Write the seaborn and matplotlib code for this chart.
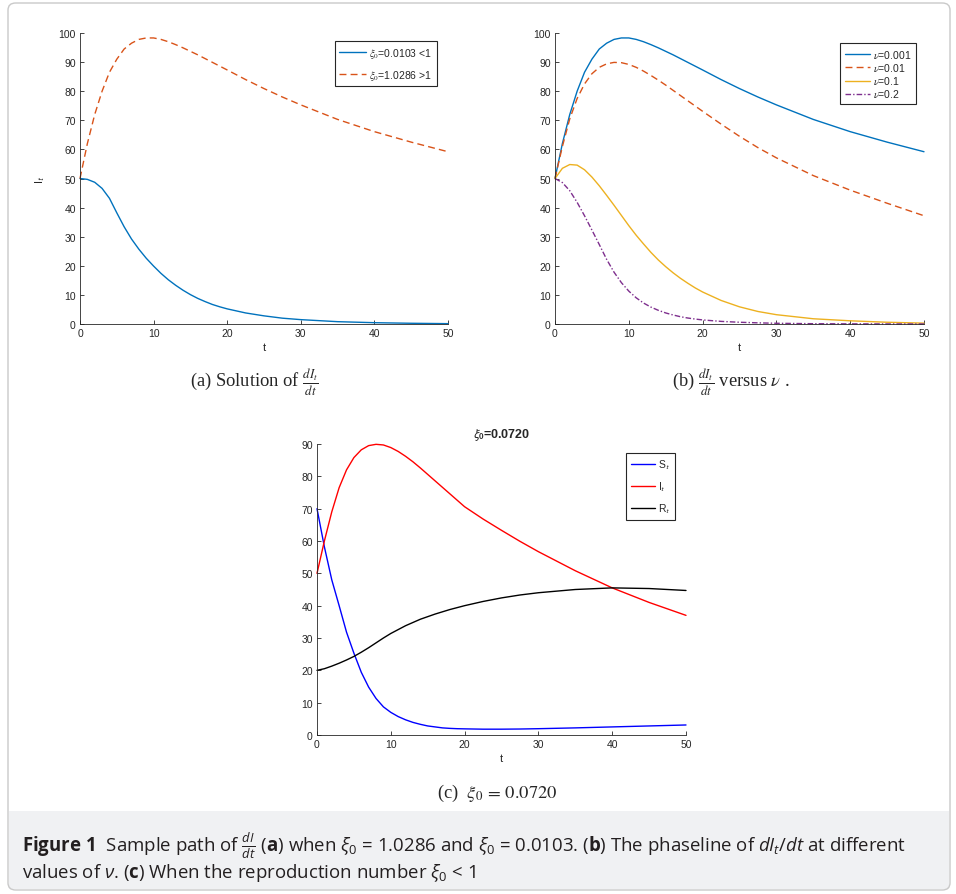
import numpy as np
import pandas as pd
import matplotlib
matplotlib.use("Agg")
import matplotlib.pyplot as plt
import matplotlib.patches as mpatches
from matplotlib import font_manager
import seaborn as sns

# time grid
t_vals = [0, 1, 2, 3, 4, 5, 6, 7, 8, 9, 10, 11, 12, 13, 14, 15, 16, 17, 18, 19, 20,
          22.5, 25, 27.5, 30, 35, 40, 45, 50]

# panel (a)
I_low = [50, 49.7, 48.7, 46.6, 43.2, 38.2, 33.4, 29.2, 25.7, 22.6, 19.9, 17.4, 15.2, 13.3,
         11.6, 10.1, 8.8, 7.7, 6.7, 5.9, 5.2, 3.8, 2.8, 2.0, 1.5, 0.8, 0.45, 0.25, 0.12]
I_high = [50, 62, 72, 80, 86.5, 91, 94.5, 96.5, 97.8, 98.3, 98.3, 97.8, 97, 96, 94.9, 93.7,
          92.5, 91.2, 89.9, 88.6, 87.3, 84, 80.9, 78, 75.3, 70.3, 66.1, 62.5, 59.2]
labels_a = [r"$\xi_0$=0.0103 <1", r"$\xi_0$=1.0286 >1"]

# panel (b)
nu_labels = [r"$\nu$=0.001", r"$\nu$=0.01", r"$\nu$=0.1", r"$\nu$=0.2"]
I_nu001 = I_high
I_nu01 = [50, 61, 70.5, 77.5, 82.5, 86, 88.2, 89.4, 89.9, 89.8, 89.2, 88.2, 86.9, 85.4,
          83.8, 82.1, 80.3, 78.5, 76.7, 74.9, 73.1, 68.7, 64.5, 60.6, 57.1, 51, 46, 41.5, 37.2]
I_nu1 = [50, 53.5, 54.8, 54.6, 53, 50.5, 47.5, 44.2, 40.8, 37.3, 33.8, 30.5, 27.5, 24.6,
         22, 19.7, 17.6, 15.7, 14, 12.4, 11, 8.1, 5.9, 4.3, 3.2, 1.8, 1.1, 0.6, 0.3]
I_nu2 = [50, 48.6, 45.8, 41.8, 37.2, 32.3, 27.3, 22.2, 17.8, 14.2, 11.3, 9, 7.2, 5.8,
         4.7, 3.8, 3.1, 2.5, 2.05, 1.7, 1.4, 0.9, 0.6, 0.4, 0.25, 0.1, 0.05, 0.02, 0.01]

# panel (c)
S_c = [70, 58.2, 48, 40, 31.8, 25.3, 19.4, 14.8, 11.3, 8.7, 7, 5.7, 4.7, 3.9, 3.3, 2.8,
       2.5, 2.2, 2.05, 1.95, 1.9, 1.8, 1.8, 1.85, 1.95, 2.2, 2.5, 2.8, 3.1]
I_c = [50, 60, 69, 76.5, 82, 85.8, 88.2, 89.5, 89.9, 89.7, 88.9, 87.7, 86.2, 84.5, 82.6,
       80.6, 78.6, 76.6, 74.6, 72.6, 70.6, 66.8, 63.3, 59.9, 56.7, 50.8, 45.5, 41, 37]
R_c = [20, 20.5, 21.3, 22.2, 23.2, 24.3, 25.6, 27, 28.5, 30, 31.4, 32.6, 33.8, 34.8, 35.8,
       36.6, 37.4, 38.1, 38.8, 39.4, 40, 41.3, 42.4, 43.3, 44, 45, 45.5, 45.3, 44.7]
labels_c = ["S$_t$", "I$_t$", "R$_t$"]

mat_colors = ["#0072BD", "#D95319", "#EDB120", "#7E2F8E"]

sns.set_style("ticks")
installed = {f.name for f in font_manager.fontManager.ttflist}
cap_font = "Liberation Sans Narrow" if "Liberation Sans Narrow" in installed else "Open Sans"
plt.rcParams["font.family"] = ["Liberation Sans", "DejaVu Sans"]
plt.rcParams["mathtext.fontset"] = "custom"
plt.rcParams["mathtext.rm"] = cap_font
plt.rcParams["mathtext.it"] = cap_font + ":italic"
plt.rcParams["mathtext.bf"] = cap_font + ":bold"

fig = plt.figure(figsize=(9.56, 8.95), dpi=100)
W, H = 956, 895


def px_axes(l, t, r, b):
    return fig.add_axes([l / W, 1 - b / H, (r - l) / W, (b - t) / H])


def style_axes(ax, ymax):
    ax.set_xlim(0, 50)
    ax.set_ylim(0, ymax)
    ax.set_xticks(range(0, 51, 10))
    ax.set_yticks(range(0, ymax + 1, 10))
    ax.tick_params(direction="in", length=3, width=0.6, labelsize=7.5,
                   colors="#262626", pad=3)
    for s in ["top", "right"]:
        ax.spines[s].set_visible(False)
    for s in ["left", "bottom"]:
        ax.spines[s].set_color("#262626")
        ax.spines[s].set_linewidth(0.6)
    ax.set_xlabel("t", fontsize=8, labelpad=3)


def draw(ax, y, color, ls, label):
    df = pd.DataFrame({"t": t_vals, "y": y})
    sns.lineplot(data=df, x="t", y="y", ax=ax, color=color, linestyle=ls,
                 linewidth=1.0, label=label, clip_on=False)


def legend(ax, spacing, hlen, mathfam, **kw):
    leg = ax.legend(fontsize=7.5, frameon=True, fancybox=False, framealpha=1,
                    edgecolor="#262626", borderpad=0.45, labelspacing=spacing,
                    handlelength=hlen, handletextpad=0.3, borderaxespad=0, **kw)
    leg.get_frame().set_linewidth(0.8)
    for txt in leg.get_texts():
        txt.set_math_fontfamily(mathfam)
    return leg


# (a)
ax_a = px_axes(80, 34, 448, 325)
draw(ax_a, I_low, mat_colors[0], "-", labels_a[0])
draw(ax_a, I_high, mat_colors[1], (0, (5, 3)), labels_a[1])
style_axes(ax_a, 100)
ax_a.set_ylabel("I$_t$", fontsize=8, labelpad=8)
ax_a.yaxis.label.set_math_fontfamily("stixsans")
legend(ax_a, 0.75, 2.6, "stix", loc="upper right",
       bbox_to_anchor=((437 - 80) / 368, 1 - (42 - 34) / 291))

# (b)
ax_b = px_axes(555, 34, 924, 325)
draw(ax_b, I_nu001, mat_colors[0], "-", nu_labels[0])
draw(ax_b, I_nu01, mat_colors[1], (0, (5, 3)), nu_labels[1])
draw(ax_b, I_nu1, mat_colors[2], "-", nu_labels[2])
draw(ax_b, I_nu2, mat_colors[3], (0, (4, 1.5, 1, 1.5)), nu_labels[3])
style_axes(ax_b, 100)
ax_b.set_ylabel("")
legend(ax_b, 0.12, 2.4, "stix", loc="upper right",
       bbox_to_anchor=((916 - 555) / 369, 1 - (44 - 34) / 291))

# (c)
ax_c = px_axes(317, 445, 686, 736)
draw(ax_c, S_c, "blue", "-", labels_c[0])
draw(ax_c, I_c, "red", "-", labels_c[1])
draw(ax_c, R_c, "black", "-", labels_c[2])
style_axes(ax_c, 90)
ax_c.set_ylabel("")
ax_c.set_title(r"$\xi_\mathbf{0}$=0.0720", fontsize=9, fontweight="bold", pad=5,
               math_fontfamily="stixsans")
legend(ax_c, 0.8, 2.3, "stixsans", loc="upper right",
       bbox_to_anchor=((675 - 317) / 369, 1 - (454 - 445) / 291))

# sub-captions (Times-like)
serif = ["Liberation Serif", "DejaVu Serif"]
fig.text(254 / W, 1 - 383 / H, r"(a) Solution of $\frac{dI_t}{dt}$", ha="center",
         va="center", fontsize=13.3, family=serif, math_fontfamily="stix")
fig.text(731 / W, 1 - 383 / H, r"(b) $\frac{dI_t}{dt}$ versus $\nu$ .", ha="center",
         va="center", fontsize=13.3, family=serif, math_fontfamily="stix")
fig.text(497 / W, 1 - 793 / H, r"(c)  $\xi_0\,=\,0.0720$", ha="center",
         va="center", fontsize=13.3, family=serif, math_fontfamily="stix")

# frame and caption box
fig.patches.append(mpatches.FancyBboxPatch(
    (8 / W, 4 / H), 942 / W, 887 / H, boxstyle="round,pad=0,rounding_size=0.008",
    transform=fig.transFigure, facecolor="none", edgecolor="#c9c9c9", linewidth=1.0))
fig.patches.append(mpatches.Rectangle(
    (9 / W, 5 / H), 940 / W, 78 / H, transform=fig.transFigure,
    facecolor="#f0f1f3", edgecolor="none", zorder=-1))

cap1 = (r"$\mathbf{Figure\ 1}$  Sample path of $\frac{dI}{dt}$ ($\mathbf{a}$) when "
        r"$\xi_0$ = 1.0286 and $\xi_0$ = 0.0103. ($\mathbf{b}$) The phaseline of "
        r"$dI_t/dt$ at different")
cap2 = r"values of $\nu$. ($\mathbf{c}$) When the reproduction number $\xi_0$ < 1"
fig.text(22 / W, 1 - 846 / H, cap1, ha="left", va="center", fontsize=13.4,
         family=[cap_font, "DejaVu Sans"], color="#231f20")
fig.text(22 / W, 1 - 873 / H, cap2, ha="left", va="center", fontsize=13.4,
         family=[cap_font, "DejaVu Sans"], color="#231f20")

fig.savefig("out.png", dpi=100)
